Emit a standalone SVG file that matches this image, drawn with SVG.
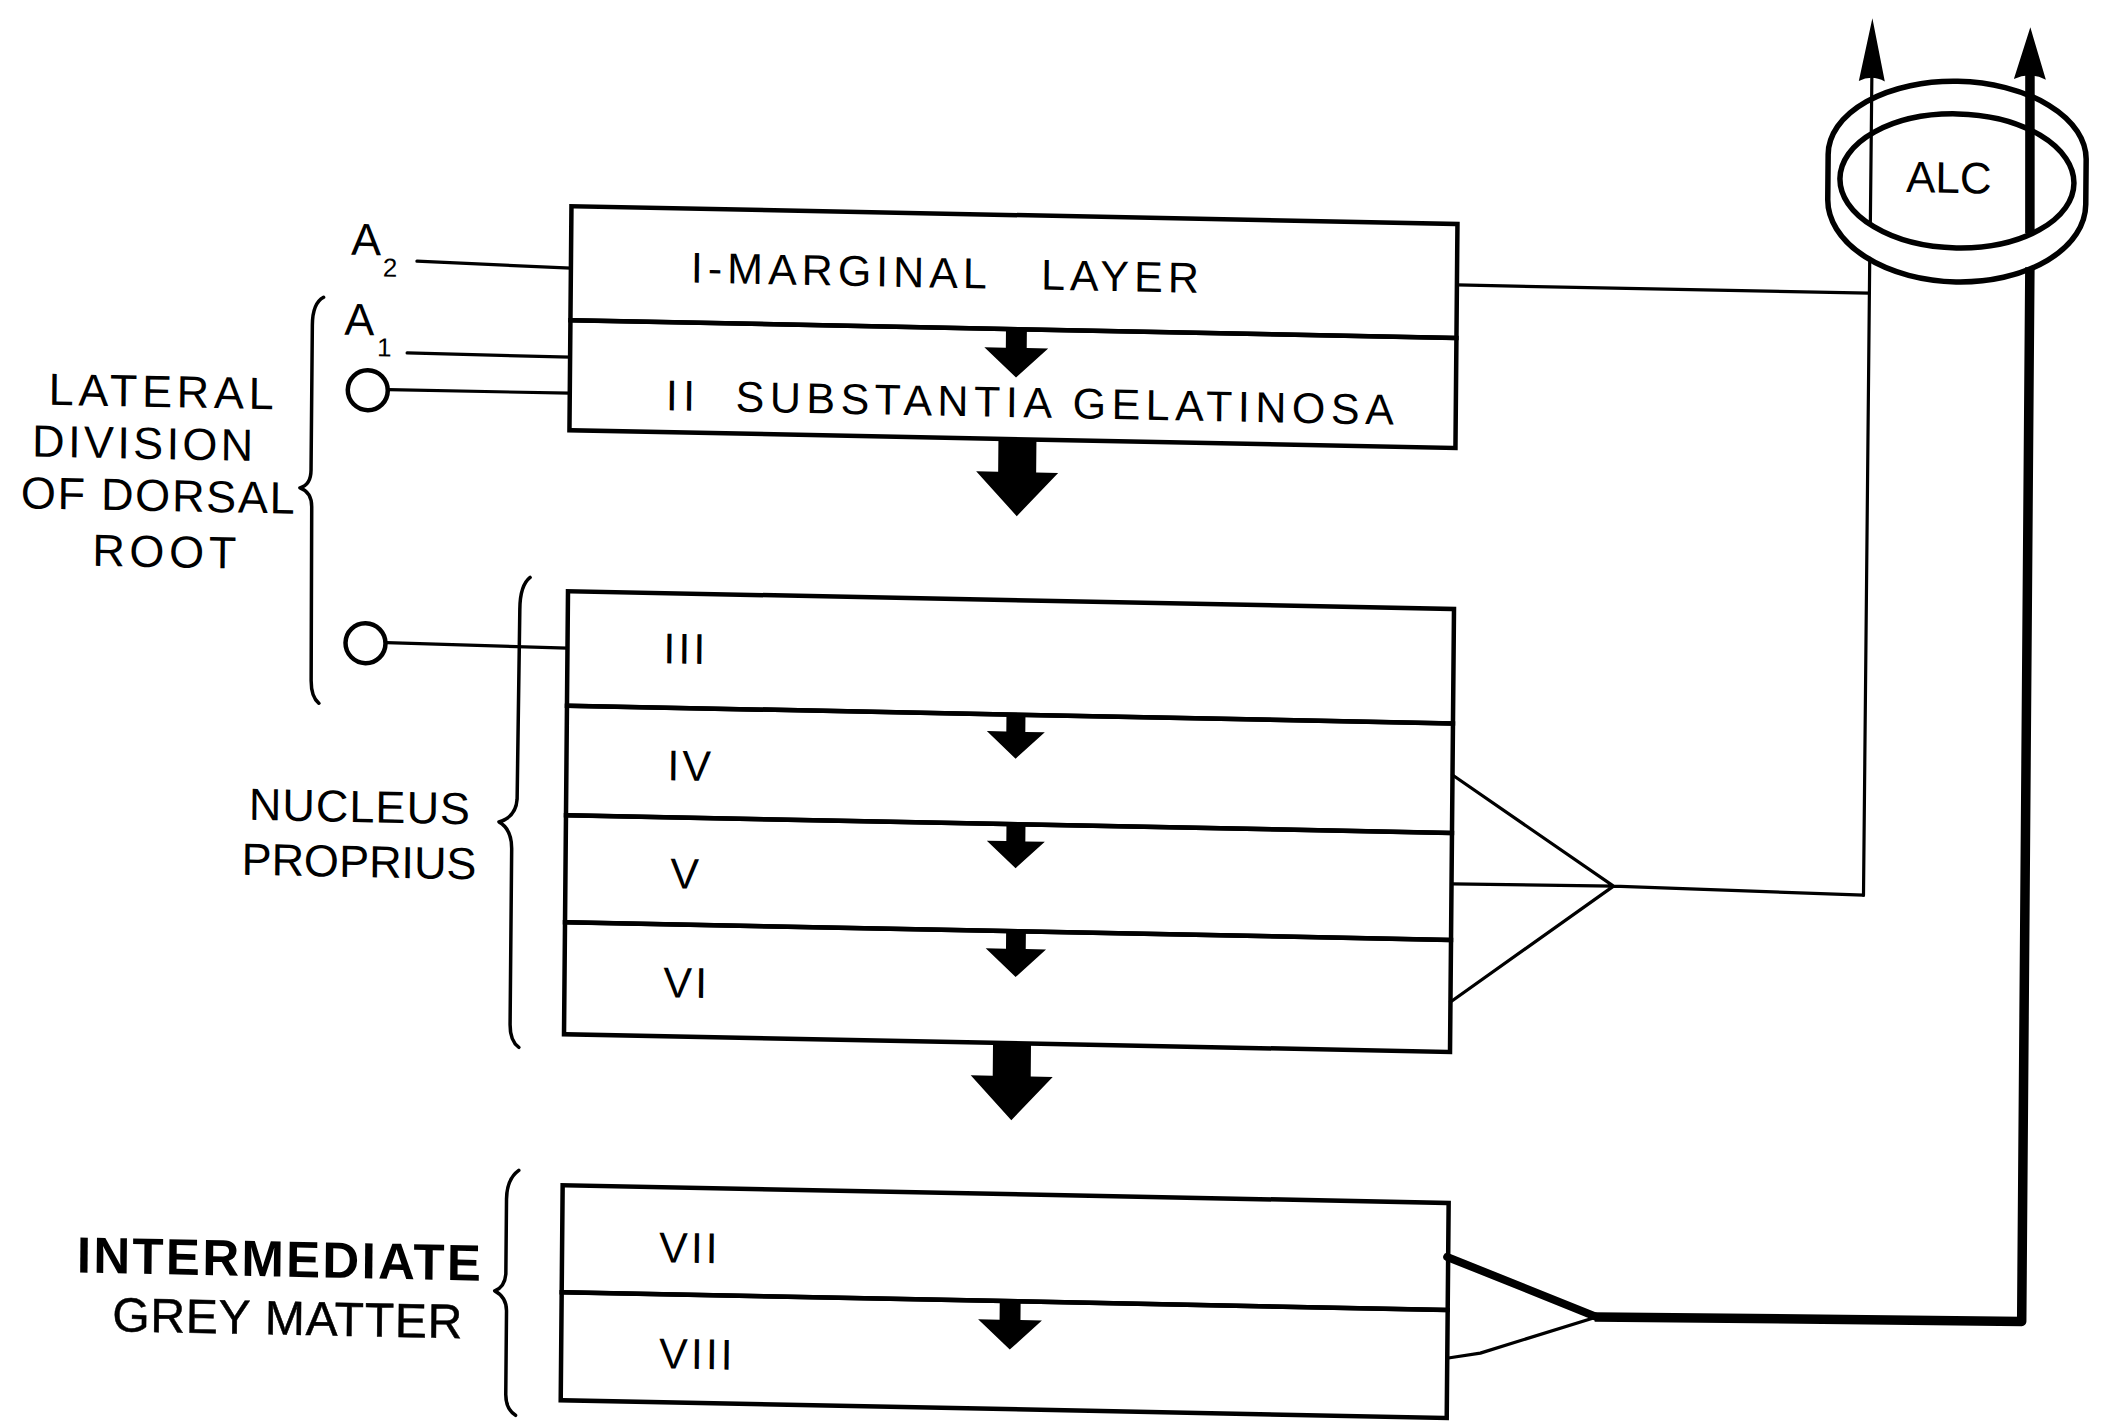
<svg xmlns="http://www.w3.org/2000/svg" width="2112" height="1424" viewBox="0 0 2112 1424">
<defs>
<style>
.box{fill:none;stroke:#000;stroke-width:4.5}
.t{font-family:"Liberation Sans",Arial,sans-serif;fill:#000}
.lbl{font-size:43px}
.rn{font-size:43px;letter-spacing:3px}
.side{font-size:45px}
.ln{fill:none;stroke:#000;stroke-width:3.2;stroke-linecap:round;stroke-linejoin:round}
.thk{fill:none;stroke:#000;stroke-width:9.5;stroke-linejoin:round}
.brace{fill:none;stroke:#000;stroke-width:3.5;stroke-linecap:round;stroke-linejoin:round}
.ring{fill:none;stroke:#000;stroke-width:5.5}
.fib{fill:none;stroke:#000;stroke-width:4.5}
</style>
<path id="sa" fill="#000" d="M-9.5,0 H9.5 V17 H29 L0,44 L-29,17 H-9.5 Z"/>
<path id="ba" fill="#000" d="M-19,0 H19 V33 H41 L0,77 L-41,33 H-19 Z"/>
</defs>
<rect width="2112" height="1424" fill="#fff"/>
<g transform="matrix(1 0.02 -0.009 1 6.408 -21.12)">

<g id="layer-I"><rect class="box" x="567" y="216" width="886" height="114"/>
<text class="t lbl" x="687" y="290" textLength="508" lengthAdjust="spacing" style="white-space:pre">I-MARGINAL   LAYER</text></g>
<g id="layer-II"><rect class="box" x="567" y="330" width="886" height="110"/>
<text class="t lbl" x="663" y="418" textLength="728" lengthAdjust="spacing" style="white-space:pre">II  SUBSTANTIA GELATINOSA</text></g>
<g id="layer-III"><rect class="box" x="567" y="601" width="886" height="114.5"/><text class="t rn" x="663" y="671">III</text></g>
<g id="layer-IV"><rect class="box" x="567" y="715.5" width="886" height="109.5"/><text class="t rn" x="668" y="788">IV</text></g>
<g id="layer-V"><rect class="box" x="567" y="825" width="886" height="107"/><text class="t rn" x="672" y="896">V</text></g>
<g id="layer-VI"><rect class="box" x="567" y="932" width="886" height="112"/><text class="t rn" x="666" y="1005">VI</text></g>
<g id="layer-VII"><rect class="box" x="567" y="1195" width="886" height="107"/><text class="t rn" x="664" y="1270">VII</text></g>
<g id="layer-VIII"><rect class="box" x="567" y="1302" width="886" height="108"/><text class="t rn" x="665" y="1376">VIII</text></g>

<g id="label-lateral">
<text class="t side" x="46" y="425" textLength="225" lengthAdjust="spacing">LATERAL</text>
<text class="t side" x="30" y="477" textLength="221" lengthAdjust="spacing">DIVISION</text>
<text class="t side" x="19" y="529" textLength="274" lengthAdjust="spacing">OF DORSAL</text>
<text class="t side" x="91" y="585" textLength="144" lengthAdjust="spacing">ROOT</text>
<path class="brace" d="M320,312 Q309,318 309,340 L309,485 Q309,500 298,503 Q310,507 310,522 L311,695 Q311,712 319,718"/>
</g>
<g id="label-nucleus">
<text class="t side" x="250" y="836" textLength="221" lengthAdjust="spacing">NUCLEUS</text>
<text class="t side" x="243" y="891" textLength="235" lengthAdjust="spacing">PROPRIUS</text>
<path class="brace" d="M529,588 Q519,596 519,620 L518,810 Q517,828 500,833 Q513,840 513,860 L513,1035 Q513,1052 522,1058"/>
</g>
<g id="label-intermediate">
<text class="t" x="82" y="1292" font-size="51" font-weight="bold" textLength="404" lengthAdjust="spacing">INTERMEDIATE</text>
<text class="t" x="118" y="1350" font-size="48" stroke="#000" stroke-width="0.5" textLength="350" lengthAdjust="spacing">GREY MATTER</text>
<path class="brace" d="M523,1181 Q511,1190 511,1210 L511,1285 Q510,1298 500,1302 Q512,1308 512,1322 L512,1405 Q512,1420 522,1426"/>
</g>

<g id="fiber-A2"><text class="t side" x="347" y="269">A<tspan font-size="26" dx="2" dy="21">2</tspan></text></g>
<g id="fiber-A1"><text class="t side" x="341" y="349">A<tspan font-size="26" dx="3" dy="21">1</tspan></text></g>
<g id="fiber-c1"><circle class="fib" cx="365" cy="404" r="20"/></g>
<g id="fiber-c2"><circle class="fib" cx="365" cy="657" r="20"/></g>

<g id="ALC">
<path class="ring" d="M1823,139 A128,75 0 0 1 2081,139 L2081,184 A129,80 0 0 1 1823,184 Z"/>
<ellipse class="ring" cx="1952" cy="163" rx="117" ry="67"/>
<text class="t" x="1944" y="175" font-size="44" text-anchor="middle">ALC</text>
</g>

<g id="connectors">
<path class="ln" d="M413,274 L567,278"/>
<path class="ln" d="M404,366 L567,367"/>
<path class="ln" d="M386,403 L567,403"/>
<path class="ln" d="M386,656 L567,658"/>
<path class="ln" d="M1453,277 L1865,277"/>
<path class="ln" d="M1453,767 L1615,875 M1453,876 L1615,875 M1453,994 L1615,875 M1615,875 L1865,879"/>
<path class="ln" d="M1865,879 L1865.5,242 M1865.8,208 L1866,55"/>
<path fill="#000" d="M1866,2 L1879,65 Q1866,58 1853,65 Z"/>
<path fill="none" stroke="#000" stroke-width="8" stroke-linecap="round" d="M1452,1249 L1602,1306"/>
<path class="ln" d="M1454,1350 L1486,1344.5 L1602,1306"/>
<path class="thk" d="M1600,1306 L2027,1302 L2025.7,248 M2025.4,214 L2024,50"/>
<path fill="#000" d="M2024,8 L2040,60 Q2024,52 2008,60 Z"/>
<use href="#sa" transform="translate(1013,330) scale(1.1)"/>
<use href="#ba" transform="translate(1015,440)"/>
<use href="#sa" transform="translate(1016,715.5)"/>
<use href="#sa" transform="translate(1017,825)"/>
<use href="#sa" transform="translate(1018,932) scale(1.04)"/>
<use href="#ba" transform="translate(1015,1044)"/>
<use href="#sa" transform="translate(1015.5,1302) scale(1.1)"/>
</g>
</g>
</svg>
